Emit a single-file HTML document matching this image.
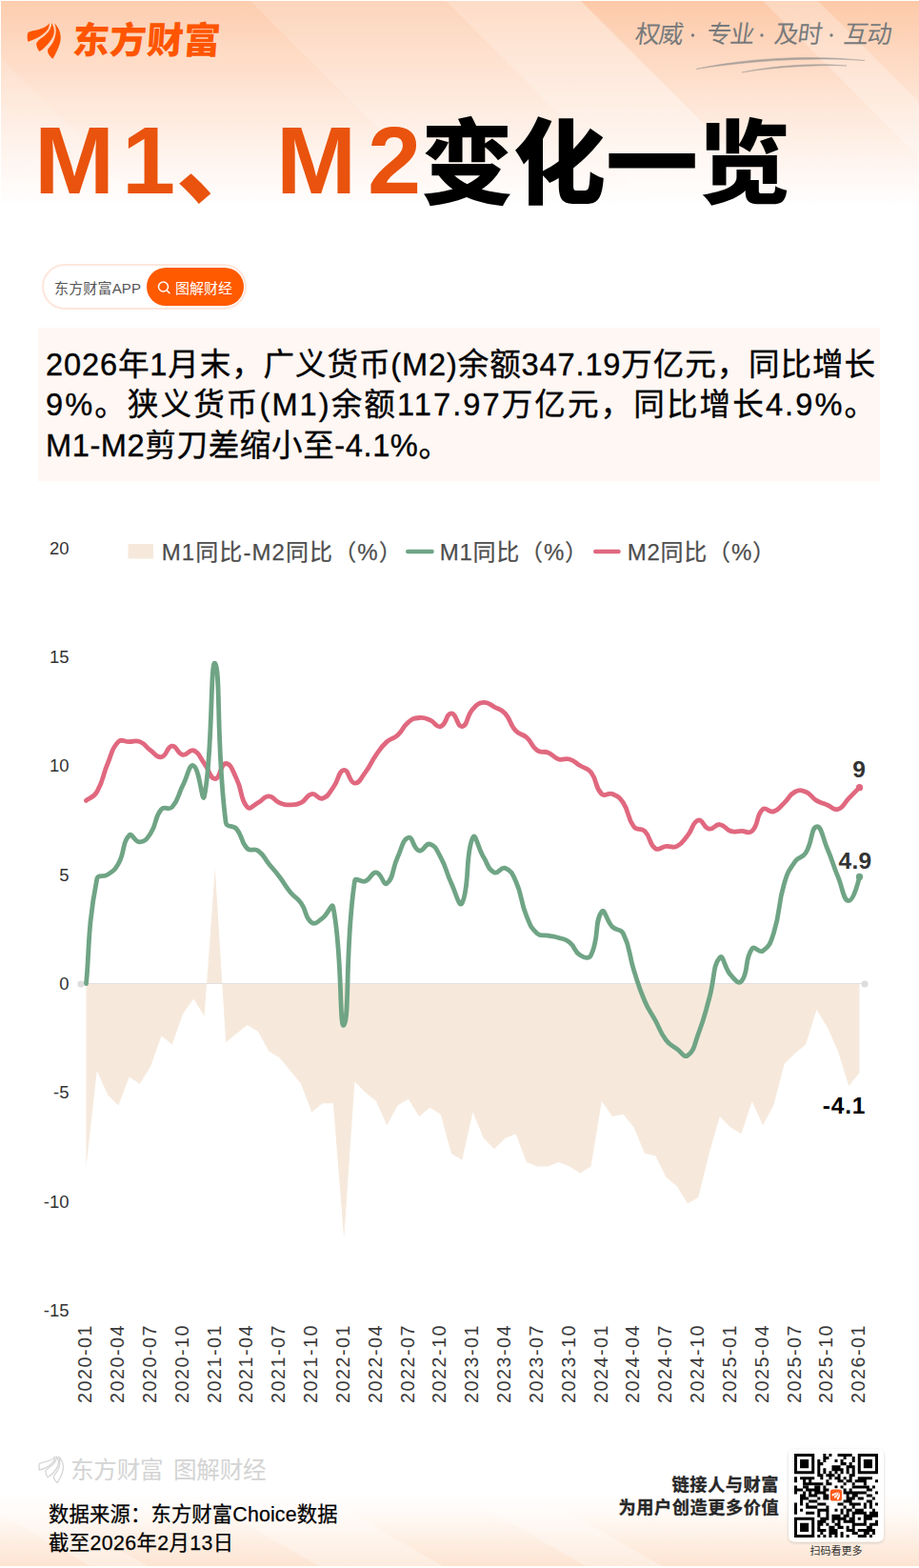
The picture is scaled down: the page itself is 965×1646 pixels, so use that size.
<!DOCTYPE html>
<html lang="zh-CN"><head><meta charset="utf-8"><title>M1、M2变化一览</title>
<style>html,body{margin:0;padding:0;background:#fff;}body{width:965px;height:1646px;overflow:hidden;font-family:"Liberation Sans","Noto Sans CJK SC",sans-serif;}svg{display:block;}</style>
</head><body><svg width="965" height="1646" viewBox="0 0 965 1646" font-family="'Liberation Sans', 'Noto Sans CJK SC', sans-serif"><defs><linearGradient id="bgTop" x1="0" y1="0" x2="0" y2="1"><stop offset="0.000" stop-color="#fdc9a8"/><stop offset="0.083" stop-color="#fdceb0"/><stop offset="0.167" stop-color="#fdd3b8"/><stop offset="0.250" stop-color="#fed8c0"/><stop offset="0.333" stop-color="#fedcc7"/><stop offset="0.417" stop-color="#fee1cf"/><stop offset="0.500" stop-color="#fee6d6"/><stop offset="0.583" stop-color="#feeade"/><stop offset="0.667" stop-color="#feefe5"/><stop offset="0.750" stop-color="#fff3ec"/><stop offset="0.833" stop-color="#fff7f3"/><stop offset="0.917" stop-color="#fffbf9"/><stop offset="1.000" stop-color="#ffffff"/></linearGradient><linearGradient id="bgBot" x1="0" y1="0" x2="0" y2="1"><stop offset="0" stop-color="#ffffff"/><stop offset="0.3" stop-color="#fffaf6"/><stop offset="0.62" stop-color="#fef0e5"/><stop offset="1" stop-color="#fde4d2"/></linearGradient><linearGradient id="fadeDown" gradientUnits="userSpaceOnUse" x1="0" y1="0" x2="0" y2="215"><stop offset="0" stop-color="#fff" stop-opacity="1"/><stop offset="1" stop-color="#fff" stop-opacity="1"/></linearGradient><clipPath id="topclip"><rect x="1" y="1" width="964" height="216"/></clipPath></defs><rect x="0" y="0" width="965" height="1646" fill="#fff"/><rect x="1" y="1" width="964" height="216" fill="url(#bgTop)"/><g clip-path="url(#topclip)"><path d="M262 0L467 0L688 221L483 221Z" fill="#fff" opacity="0.22"/><path d="M467 0L609 0L830 221L688 221Z" fill="#fff" opacity="0.36"/><path d="M800 0L858 0L1079 221L1021 221Z" fill="#fff" opacity="0.25"/><path d="M-250 0L-60 0L161 221L-29 221Z" fill="#fff" opacity="0.18"/><path d="M-60 0L262 0L483 221L161 221Z" fill="#fff" opacity="0.08"/></g><rect x="0" y="1566" width="965" height="78" fill="url(#bgBot)"/><g opacity="0.30" fill="#fff"><path d="M200 1566L330 1566L465 1644L335 1644Z"/><path d="M480 1566L560 1566L695 1644L615 1644Z"/><path d="M-40 1566L20 1566L155 1644L95 1644Z"/></g><g transform="translate(22 16)" fill="#ff5500" opacity="1"><path d="M29.79 8.29C28.24 11.14 24.35 13.73 15.54 15.8C11.4 16.68 8.55 17.1 7.25 18.39C6.32 20.73 6.63 24.35 7.25 27.72C13.47 26.17 20.73 22.8 26.42 17.1C29.02 14.25 30.05 11.14 29.79 8.29Z"/><path d="M32.12 8.03C32.38 12.95 29.53 18.13 22.8 23.06C19.69 25.13 17.1 27.46 16.06 29.79C16.32 33.16 17.88 36.27 19.43 38.08C24.87 34.72 31.09 27.98 33.94 21.76C35.75 17.1 34.72 11.92 32.12 8.03Z"/><path d="M35.23 8.55C37.56 14.51 37.31 20.73 33.68 28.24C31.61 31.61 29.27 34.2 28.24 35.75C27.2 39.38 30.05 43.01 33.42 45.85C37.82 38.34 41.45 30.57 41.71 24.35C41.87 18.13 39.38 12.44 35.23 8.55Z"/></g><text transform="translate(75.5 56) skewX(-4)" font-size="38.5" font-weight="900" letter-spacing="0.33" fill="#ff5500">东方财富</text><g fill="#777a7c" font-size="26" letter-spacing="-1.4"><text transform="translate(666 45) skewX(-8)">权威</text><text transform="translate(741 45) skewX(-8)">专业</text><text transform="translate(812 45) skewX(-8)">及时</text><text transform="translate(885 45) skewX(-8)">互动</text></g><circle cx="727.5" cy="37" r="1.7" fill="#777a7c"/><circle cx="800" cy="37" r="1.7" fill="#777a7c"/><circle cx="873" cy="37" r="1.7" fill="#777a7c"/><path d="M731 72.5C780 61.5 850 57 908 63.5C850 59.8 790 63.5 731 72.5Z" fill="#8e8e8e" stroke="#8e8e8e" stroke-width="0.5" opacity="0.75"/><path d="M779 76C815 68 860 66 889 69C860 67.8 815 70.2 779 76Z" fill="#8e8e8e" stroke="#8e8e8e" stroke-width="0.5" opacity="0.75"/><g fill="#e9530d" font-weight="bold" font-size="101"><text x="36" y="202.9">M</text><text x="128" y="202.9">1</text><text x="185" y="206" font-size="97" font-weight="900">、</text><text x="290" y="202.9">M</text><text x="386" y="202.9">2</text></g><text x="442" y="206" font-size="97" font-weight="900" fill="#000">变化一览</text><rect x="45" y="278" width="213" height="46" rx="23" fill="#fff" stroke="#fee6dc" stroke-width="2"/><rect x="154" y="281" width="102" height="40" rx="20" fill="#ff5a00"/><text x="57" y="307.5" font-size="15" fill="#555" textLength="91" lengthAdjust="spacing">东方财富APP</text><text x="184" y="307.5" font-size="15" fill="#fff">图解财经</text><circle cx="171.5" cy="301" r="5" fill="none" stroke="#fff" stroke-width="1.5"/><path d="M175.2 304.8L178 307.8" stroke="#fff" stroke-width="1.5" stroke-linecap="round"/><rect x="40" y="344" width="884" height="161" fill="#fef7f4"/><g fill="#000" stroke="#000" stroke-width="0.35" font-size="32.6"><text x="48" y="393.5" textLength="871" lengthAdjust="spacing">2026年1月末，广义货币(M2)余额347.19万亿元，同比增长</text><text x="48" y="436.4" textLength="871" lengthAdjust="spacing">9%。狭义货币(M1)余额117.97万亿元，同比增长4.9%。</text><text x="48" y="479.3" textLength="424" lengthAdjust="spacing">M1-M2剪刀差缩小至-4.1%。</text></g><path d="M90.5 1032.5L90.5 1224.61L101.78 1123.98L113.06 1149.14L124.33 1160.57L135.61 1130.84L146.89 1137.7L158.17 1119.41L169.44 1087.39L180.72 1096.54L192 1064.52L203.28 1048.51L214.56 1066.81L225.83 911.29L237.11 1094.25L248.39 1085.1L259.67 1075.95L270.94 1082.81L282.22 1103.4L293.5 1110.26L304.78 1123.98L316.06 1137.7L327.33 1167.43L338.61 1158.29L349.89 1158.29L361.17 1300.08L372.44 1135.41L383.72 1146.85L395 1156L406.28 1181.15L417.56 1160.57L428.83 1153.71L440.11 1172.01L451.39 1162.86L462.67 1169.72L473.94 1210.89L485.22 1217.75L496.5 1167.43L507.78 1194.88L519.06 1206.31L530.33 1194.88L541.61 1190.3L552.89 1220.03L564.17 1224.61L575.44 1224.61L586.72 1220.03L598 1224.61L609.28 1231.47L620.56 1224.61L631.83 1156L643.11 1172.01L654.39 1169.72L665.67 1183.44L676.94 1210.89L688.22 1213.17L699.5 1236.04L710.78 1245.19L722.06 1263.49L733.33 1256.63L744.61 1210.89L755.89 1172.01L767.17 1183.44L778.44 1190.3L789.72 1156L801 1181.15L812.28 1160.57L823.56 1117.12L834.83 1105.68L846.11 1096.54L857.39 1059.94L868.67 1078.24L879.94 1103.4L891.22 1139.99L902.5 1126.27L902.5 1032.5Z" fill="#f6e9dc"/><path d="M85 1032.5 H908" stroke="#e3dfe3" stroke-width="1.2"/><circle cx="85" cy="1033" r="3.6" fill="#ddd"/><circle cx="908" cy="1033" r="3.6" fill="#ddd"/><path d="M90.5 840.39C93.88 837.65 98.24 837.34 101.78 831.24C109.52 817.9 106.8 816.11 113.06 801.51C118.07 789.81 116.51 786.57 124.33 778.64C127.79 775.14 129.97 778.64 135.61 778.64C141.25 778.64 141.96 776.64 146.89 778.64C153.24 781.22 152.26 783.6 158.17 787.79C163.54 791.6 164.36 795.68 169.44 794.65C175.63 793.4 174.8 783.82 180.72 783.22C186.08 782.67 185.86 791.12 192 792.37C197.14 793.41 198.69 785.93 203.28 787.79C209.97 790.51 209.19 794.44 214.56 801.51C220.47 809.31 220.19 817.52 225.83 817.52C231.47 817.52 231.47 801.51 237.11 801.51C242.75 801.51 244.09 808.81 248.39 817.52C255.37 831.68 251.51 838.16 259.67 847.25C262.79 850.73 265.53 845.42 270.94 842.68C276.81 839.7 276.58 835.82 282.22 835.82C287.86 835.82 287.47 840.24 293.5 842.68C298.75 844.81 299.14 844.97 304.78 844.97C310.42 844.97 311.07 845.21 316.06 842.68C322.35 839.49 321.2 834.78 327.33 833.53C332.48 832.49 333.75 839.58 338.61 838.11C345.03 836.15 345.07 833.03 349.89 826.67C356.34 818.16 354.99 809.63 361.17 808.37C366.27 807.34 366.52 821.5 372.44 822.1C377.8 822.64 378.9 817.02 383.72 810.66C390.18 802.15 388.83 801.13 395 792.37C400.1 785.12 399.81 784.55 406.28 778.64C411.09 774.26 412.75 776.17 417.56 771.78C424.03 765.88 422.14 763.49 428.83 758.06C433.42 754.34 434.31 754.07 440.11 753.49C445.59 752.93 446.14 753.64 451.39 755.77C457.41 758.22 457.86 764.1 462.67 762.63C469.14 760.67 468.31 748.91 473.94 748.91C479.58 748.91 480.12 763.67 485.22 762.63C491.4 761.38 489.51 752.13 496.5 744.34C500.79 739.55 501.91 738.07 507.78 737.48C513.19 736.93 513.65 739.31 519.06 742.05C524.92 745.03 526.04 744.13 530.33 748.91C537.32 756.7 534.62 759.42 541.61 767.21C545.9 771.99 548.08 769.68 552.89 774.07C559.36 779.97 557.32 782.93 564.17 787.79C568.6 790.94 570.19 787.95 575.44 790.08C581.47 792.52 580.64 795.09 586.72 796.94C591.92 798.52 592.8 795.36 598 796.94C604.08 798.79 603.64 800.37 609.28 803.8C614.92 807.23 616.71 805.59 620.56 810.66C627.99 820.46 624.01 825.6 631.83 833.53C635.29 837.04 638.18 831.53 643.11 833.53C649.46 836.11 650.5 836.76 654.39 842.68C661.78 853.91 657.84 857.52 665.67 867.84C669.12 872.39 672.87 868.28 676.94 872.41C684.14 879.71 680.88 885.49 688.22 890.71C692.15 893.5 693.8 889 699.5 888.42C705.08 887.85 706.13 890.78 710.78 888.42C717.4 885.06 716.97 883.17 722.06 876.98C728.25 869.45 726.86 862.94 733.33 860.98C738.14 859.51 738.48 868.88 744.61 870.12C749.75 871.17 750.48 865 755.89 865.55C761.76 866.14 761.08 870.56 767.17 872.41C772.36 873.99 772.81 872.41 778.44 872.41C784.08 872.41 786.26 875.92 789.72 872.41C797.54 864.48 793.23 856.63 801 849.54C804.51 846.34 807.29 853.34 812.28 851.83C818.57 849.91 818.2 847.57 823.56 842.68C829.48 837.27 828.21 834.6 834.83 831.24C839.49 828.89 841.18 829.24 846.11 831.24C852.46 833.82 851.25 836.66 857.39 840.39C862.53 843.52 863.03 842.68 868.67 844.97C874.31 847.25 875.08 851.02 879.94 849.54C886.36 847.59 885.58 843.82 891.22 838.11C896.86 832.39 902.5 826.67 902.5 826.67" fill="none" stroke="#e0687f" stroke-width="4.8" stroke-linecap="round" stroke-linejoin="round"/><path d="M90.5 1032.5C93.88 999.57 91.62 974.22 101.78 922.72C102.9 917.04 108.19 921.6 113.06 918.15C119.47 913.6 120.55 913.62 124.33 906.72C131.83 893.04 127.64 885.06 135.61 876.98C138.92 873.63 141.52 884.39 146.89 883.85C152.8 883.25 154.28 880.61 158.17 874.7C165.55 863.46 161.49 859.22 169.44 849.54C172.77 845.5 177.22 851.16 180.72 847.25C188.49 838.59 186.13 835.7 192 824.38C197.41 813.97 198.67 801.46 203.28 803.8C209.95 807.18 212.35 846.31 214.56 835.82C223.63 792.56 220.7 690.06 225.83 696.31C231.97 703.78 226.66 782.71 237.11 863.26C237.94 869.62 244.33 865.18 248.39 870.12C255.61 878.91 252.1 883.03 259.67 890.71C263.38 894.47 266.51 889.85 270.94 892.99C277.79 897.85 276.58 899.85 282.22 906.72C287.86 913.58 288.14 913.37 293.5 920.44C299.41 928.23 298.58 928.91 304.78 936.45C309.86 942.63 311.47 941.38 316.06 947.88C322.75 957.39 319.91 963.19 327.33 968.46C331.18 971.2 333.75 967.34 338.61 963.89C345.03 959.34 348.6 946.03 349.89 952.46C359.87 1002.06 356.09 1082.13 361.17 1075.95C367.37 1068.41 361.95 995.25 372.44 925.01C373.23 919.78 378.79 927.01 383.72 925.01C390.07 922.44 389.64 915.32 395 915.86C400.92 916.46 402.32 930.11 406.28 927.3C413.59 922.1 411.26 913.26 417.56 899.85C422.54 889.25 422.41 881.22 428.83 879.27C433.69 877.79 433.64 891.03 440.11 892.99C444.92 894.46 446.58 884.67 451.39 886.13C457.86 888.1 458.44 892.15 462.67 899.85C469.72 912.73 467.65 913.89 473.94 927.3C478.93 937.9 482.38 953.94 485.22 947.88C493.65 929.93 488.07 897.22 496.5 879.27C499.35 873.21 501.63 889.88 507.78 899.85C512.91 908.18 512.1 912.34 519.06 915.86C523.38 918.05 525.75 909.43 530.33 911.29C537.03 914 538.04 917.04 541.61 925.01C549.32 942.2 545.67 944.03 552.89 961.6C556.94 971.47 556.82 973.2 564.17 979.9C568.1 983.49 569.81 981.04 575.44 982.19C581.08 983.33 581.24 982.81 586.72 984.47C592.52 986.24 593.41 985.33 598 989.05C604.69 994.48 602.38 998.57 609.28 1002.77C613.66 1005.43 618.38 1007.19 620.56 1002.77C629.65 984.32 623.87 967.53 631.83 957.03C635.14 952.66 636.37 966.21 643.11 973.04C647.65 977.64 651.62 974.28 654.39 979.9C662.89 997.15 659.53 999.5 665.67 1018.78C670.81 1034.95 670.28 1035.25 676.94 1050.8C681.55 1061.55 682.58 1061.09 688.22 1071.38C693.86 1081.67 692.53 1082.78 699.5 1091.96C703.81 1097.64 704.87 1096.92 710.78 1101.11C716.15 1104.92 718.21 1110.7 722.06 1107.97C729.49 1102.7 728.83 1096.99 733.33 1085.1C740.1 1067.25 739.42 1066.93 744.61 1048.51C750.7 1026.91 748.26 1013.56 755.89 1005.06C759.54 1000.98 760.18 1015.56 767.17 1023.35C771.46 1028.14 775.43 1033.89 778.44 1030.21C786.7 1020.16 781.17 1008.05 789.72 995.91C792.45 992.04 797.07 1000.99 801 998.2C808.35 992.98 809.06 990.02 812.28 979.9C820.34 954.57 815.9 952.9 823.56 927.3C827.18 915.16 827.65 914.63 834.83 904.43C838.93 898.62 842.41 901.29 846.11 895.28C853.68 883 851.32 869.07 857.39 867.84C862.6 866.78 863.65 879 868.67 890.71C874.93 905.3 873.9 905.74 879.94 920.44C885.18 933.18 885.58 945.59 891.22 945.59C896.86 945.59 902.5 920.44 902.5 920.44" fill="none" stroke="#6fa485" stroke-width="4.8" stroke-linecap="round" stroke-linejoin="round"/><circle cx="902.5" cy="826.67" r="3.6" fill="#e0687f"/><circle cx="902.5" cy="920.44" r="3.6" fill="#6fa485"/><g font-size="18.5" fill="#333" text-anchor="end"><text x="72.5" y="581.7">20</text><text x="72.5" y="696.05">15</text><text x="72.5" y="810.4">10</text><text x="72.5" y="924.75">5</text><text x="72.5" y="1039.1">0</text><text x="72.5" y="1153.45">-5</text><text x="72.5" y="1267.8">-10</text><text x="72.5" y="1382.15">-15</text></g><g font-size="19.8" fill="#3a3a3a" letter-spacing="1.5"><text transform="translate(96.2 1473) rotate(-90)">2020-01</text><text transform="translate(130.03 1473) rotate(-90)">2020-04</text><text transform="translate(163.87 1473) rotate(-90)">2020-07</text><text transform="translate(197.7 1473) rotate(-90)">2020-10</text><text transform="translate(231.53 1473) rotate(-90)">2021-01</text><text transform="translate(265.37 1473) rotate(-90)">2021-04</text><text transform="translate(299.2 1473) rotate(-90)">2021-07</text><text transform="translate(333.03 1473) rotate(-90)">2021-10</text><text transform="translate(366.87 1473) rotate(-90)">2022-01</text><text transform="translate(400.7 1473) rotate(-90)">2022-04</text><text transform="translate(434.53 1473) rotate(-90)">2022-07</text><text transform="translate(468.37 1473) rotate(-90)">2022-10</text><text transform="translate(502.2 1473) rotate(-90)">2023-01</text><text transform="translate(536.03 1473) rotate(-90)">2023-04</text><text transform="translate(569.87 1473) rotate(-90)">2023-07</text><text transform="translate(603.7 1473) rotate(-90)">2023-10</text><text transform="translate(637.53 1473) rotate(-90)">2024-01</text><text transform="translate(671.37 1473) rotate(-90)">2024-04</text><text transform="translate(705.2 1473) rotate(-90)">2024-07</text><text transform="translate(739.03 1473) rotate(-90)">2024-10</text><text transform="translate(772.87 1473) rotate(-90)">2025-01</text><text transform="translate(806.7 1473) rotate(-90)">2025-04</text><text transform="translate(840.53 1473) rotate(-90)">2025-07</text><text transform="translate(874.37 1473) rotate(-90)">2025-10</text><text transform="translate(908.2 1473) rotate(-90)">2026-01</text></g><g font-size="24.5" font-weight="bold" text-anchor="middle"><text x="902" y="815.5" fill="#333">9</text><text x="898" y="911.8" fill="#333" letter-spacing="0.3">4.9</text><text x="886.5" y="1168.5" fill="#000" letter-spacing="0.8">-4.1</text></g><rect x="134.5" y="571" width="26.5" height="15.5" fill="#f6e9dc"/><path d="M428.3 579H453.5" stroke="#6fa485" stroke-width="4.6" stroke-linecap="round"/><path d="M625.3 579H649.5" stroke="#e0687f" stroke-width="4.6" stroke-linecap="round"/><g fill="#4d4d4d" stroke="#555" stroke-width="0.25" font-size="24"><text x="169.7" y="587.5" textLength="252" lengthAdjust="spacing">M1同比-M2同比（%）</text><text x="461.7" y="587.5" textLength="155.3" lengthAdjust="spacing">M1同比（%）</text><text x="658.7" y="587.5" textLength="155.3" lengthAdjust="spacing">M2同比（%）</text></g><g transform="translate(36 1523)" fill="none" stroke="#d6d6d6" stroke-width="1.3" stroke-linejoin="round" opacity="1"><path d="M21.75 6.05C20.61 8.13 17.78 10.02 11.35 11.54C8.32 12.18 6.24 12.48 5.3 13.43C4.61 15.13 4.84 17.78 5.3 20.24C9.83 19.1 15.13 16.64 19.29 12.48C21.18 10.4 21.94 8.13 21.75 6.05Z"/><path d="M23.45 5.86C23.64 9.46 21.56 13.24 16.64 16.83C14.37 18.34 12.48 20.05 11.73 21.75C11.91 24.21 13.05 26.48 14.18 27.8C18.16 25.34 22.69 20.42 24.77 15.89C26.1 12.48 25.34 8.7 23.45 5.86Z"/><path d="M25.72 6.24C27.42 10.59 27.23 15.13 24.59 20.61C23.07 23.07 21.37 24.96 20.61 26.1C19.86 28.75 21.94 31.39 24.4 33.47C27.61 27.99 30.26 22.32 30.45 17.78C30.56 13.24 28.75 9.08 25.72 6.24Z"/></g><g fill="#d4d4d4" font-size="24.6"><text x="73.9" y="1552.3" letter-spacing="-0.2">东方财富</text><text x="181.9" y="1552.3" letter-spacing="-0.2">图解财经</text></g><g fill="#000" stroke="#000" stroke-width="0.25" font-size="21.3"><text x="51" y="1597.4" textLength="303.5" lengthAdjust="spacing">数据来源：东方财富Choice数据</text><text x="51" y="1626.9" textLength="194" lengthAdjust="spacing">截至2026年2月13日</text></g><g fill="#262626" stroke="#262626" stroke-width="0.3" font-size="18.2" font-weight="bold" letter-spacing="0.56"><text x="705.5" y="1564.6">链接人与财富</text><text x="649.5" y="1589.4">为用户创造更多价值</text></g><defs><filter id="sh" x="-20%" y="-20%" width="140%" height="140%"><feDropShadow dx="0" dy="1" stdDeviation="1.5" flood-color="#000" flood-opacity="0.18"/></filter></defs><rect x="828" y="1521" width="100" height="97.5" rx="6" fill="#fff" filter="url(#sh)"/><path d="M834 1526h21.24v3.03h-21.24zM864.34 1526h3.03v3.03h-3.03zM870.41 1526h3.03v3.03h-3.03zM879.52 1526h15.17v3.03h-15.17zM900.76 1526h21.24v3.03h-21.24zM834 1529.03h3.03v3.03h-3.03zM852.21 1529.03h3.03v3.03h-3.03zM864.34 1529.03h6.07v3.03h-6.07zM885.59 1529.03h3.03v3.03h-3.03zM894.69 1529.03h3.03v3.03h-3.03zM900.76 1529.03h3.03v3.03h-3.03zM918.97 1529.03h3.03v3.03h-3.03zM834 1532.07h3.03v3.03h-3.03zM840.07 1532.07h9.1v3.03h-9.1zM852.21 1532.07h3.03v3.03h-3.03zM858.28 1532.07h3.03v3.03h-3.03zM864.34 1532.07h3.03v3.03h-3.03zM876.48 1532.07h3.03v3.03h-3.03zM882.55 1532.07h3.03v3.03h-3.03zM894.69 1532.07h3.03v3.03h-3.03zM900.76 1532.07h3.03v3.03h-3.03zM906.83 1532.07h9.1v3.03h-9.1zM918.97 1532.07h3.03v3.03h-3.03zM834 1535.1h3.03v3.03h-3.03zM840.07 1535.1h9.1v3.03h-9.1zM852.21 1535.1h3.03v3.03h-3.03zM858.28 1535.1h6.07v3.03h-6.07zM882.55 1535.1h6.07v3.03h-6.07zM891.66 1535.1h3.03v3.03h-3.03zM900.76 1535.1h3.03v3.03h-3.03zM906.83 1535.1h9.1v3.03h-9.1zM918.97 1535.1h3.03v3.03h-3.03zM834 1538.14h3.03v3.03h-3.03zM840.07 1538.14h9.1v3.03h-9.1zM852.21 1538.14h3.03v3.03h-3.03zM858.28 1538.14h3.03v3.03h-3.03zM873.45 1538.14h9.1v3.03h-9.1zM888.62 1538.14h9.1v3.03h-9.1zM900.76 1538.14h3.03v3.03h-3.03zM906.83 1538.14h9.1v3.03h-9.1zM918.97 1538.14h3.03v3.03h-3.03zM834 1541.17h3.03v3.03h-3.03zM852.21 1541.17h3.03v3.03h-3.03zM858.28 1541.17h3.03v3.03h-3.03zM864.34 1541.17h3.03v3.03h-3.03zM873.45 1541.17h12.14v3.03h-12.14zM888.62 1541.17h3.03v3.03h-3.03zM894.69 1541.17h3.03v3.03h-3.03zM900.76 1541.17h3.03v3.03h-3.03zM918.97 1541.17h3.03v3.03h-3.03zM834 1544.21h21.24v3.03h-21.24zM858.28 1544.21h3.03v3.03h-3.03zM864.34 1544.21h3.03v3.03h-3.03zM870.41 1544.21h3.03v3.03h-3.03zM876.48 1544.21h3.03v3.03h-3.03zM882.55 1544.21h3.03v3.03h-3.03zM888.62 1544.21h3.03v3.03h-3.03zM894.69 1544.21h3.03v3.03h-3.03zM900.76 1544.21h21.24v3.03h-21.24zM858.28 1547.24h6.07v3.03h-6.07zM867.38 1547.24h9.1v3.03h-9.1zM879.52 1547.24h3.03v3.03h-3.03zM891.66 1547.24h6.07v3.03h-6.07zM834 1550.28h3.03v3.03h-3.03zM840.07 1550.28h15.17v3.03h-15.17zM861.31 1550.28h3.03v3.03h-3.03zM870.41 1550.28h3.03v3.03h-3.03zM876.48 1550.28h6.07v3.03h-6.07zM885.59 1550.28h3.03v3.03h-3.03zM891.66 1550.28h3.03v3.03h-3.03zM900.76 1550.28h15.17v3.03h-15.17zM834 1553.31h3.03v3.03h-3.03zM843.1 1553.31h3.03v3.03h-3.03zM849.17 1553.31h3.03v3.03h-3.03zM867.38 1553.31h3.03v3.03h-3.03zM879.52 1553.31h6.07v3.03h-6.07zM888.62 1553.31h6.07v3.03h-6.07zM897.72 1553.31h12.14v3.03h-12.14zM918.97 1553.31h3.03v3.03h-3.03zM843.1 1556.34h21.24v3.03h-21.24zM867.38 1556.34h6.07v3.03h-6.07zM885.59 1556.34h3.03v3.03h-3.03zM894.69 1556.34h3.03v3.03h-3.03zM906.83 1556.34h3.03v3.03h-3.03zM834 1559.38h3.03v3.03h-3.03zM843.1 1559.38h6.07v3.03h-6.07zM855.24 1559.38h6.07v3.03h-6.07zM864.34 1559.38h3.03v3.03h-3.03zM876.48 1559.38h3.03v3.03h-3.03zM882.55 1559.38h3.03v3.03h-3.03zM894.69 1559.38h18.21v3.03h-18.21zM915.93 1559.38h3.03v3.03h-3.03zM834 1562.41h9.1v3.03h-9.1zM846.14 1562.41h15.17v3.03h-15.17zM864.34 1562.41h6.07v3.03h-6.07zM885.59 1562.41h3.03v3.03h-3.03zM891.66 1562.41h3.03v3.03h-3.03zM909.86 1562.41h6.07v3.03h-6.07zM834 1565.45h3.03v3.03h-3.03zM843.1 1565.45h3.03v3.03h-3.03zM849.17 1565.45h3.03v3.03h-3.03zM855.24 1565.45h12.14v3.03h-12.14zM885.59 1565.45h24.28v3.03h-24.28zM918.97 1565.45h3.03v3.03h-3.03zM840.07 1568.48h6.07v3.03h-6.07zM849.17 1568.48h9.1v3.03h-9.1zM864.34 1568.48h6.07v3.03h-6.07zM888.62 1568.48h3.03v3.03h-3.03zM894.69 1568.48h6.07v3.03h-6.07zM909.86 1568.48h6.07v3.03h-6.07zM840.07 1571.52h9.1v3.03h-9.1zM858.28 1571.52h3.03v3.03h-3.03zM864.34 1571.52h6.07v3.03h-6.07zM888.62 1571.52h9.1v3.03h-9.1zM900.76 1571.52h6.07v3.03h-6.07zM915.93 1571.52h3.03v3.03h-3.03zM840.07 1574.55h3.03v3.03h-3.03zM849.17 1574.55h9.1v3.03h-9.1zM885.59 1574.55h9.1v3.03h-9.1zM909.86 1574.55h6.07v3.03h-6.07zM834 1577.59h3.03v3.03h-3.03zM840.07 1577.59h3.03v3.03h-3.03zM846.14 1577.59h3.03v3.03h-3.03zM858.28 1577.59h9.1v3.03h-9.1zM879.52 1577.59h6.07v3.03h-6.07zM891.66 1577.59h12.14v3.03h-12.14zM906.83 1577.59h3.03v3.03h-3.03zM912.9 1577.59h3.03v3.03h-3.03zM918.97 1577.59h3.03v3.03h-3.03zM834 1580.62h3.03v3.03h-3.03zM846.14 1580.62h12.14v3.03h-12.14zM867.38 1580.62h3.03v3.03h-3.03zM885.59 1580.62h3.03v3.03h-3.03zM894.69 1580.62h3.03v3.03h-3.03zM906.83 1580.62h3.03v3.03h-3.03zM912.9 1580.62h3.03v3.03h-3.03zM834 1583.66h3.03v3.03h-3.03zM840.07 1583.66h3.03v3.03h-3.03zM858.28 1583.66h12.14v3.03h-12.14zM876.48 1583.66h3.03v3.03h-3.03zM882.55 1583.66h3.03v3.03h-3.03zM888.62 1583.66h6.07v3.03h-6.07zM897.72 1583.66h9.1v3.03h-9.1zM915.93 1583.66h3.03v3.03h-3.03zM834 1586.69h3.03v3.03h-3.03zM846.14 1586.69h9.1v3.03h-9.1zM858.28 1586.69h3.03v3.03h-3.03zM867.38 1586.69h3.03v3.03h-3.03zM882.55 1586.69h3.03v3.03h-3.03zM888.62 1586.69h3.03v3.03h-3.03zM894.69 1586.69h15.17v3.03h-15.17zM912.9 1586.69h9.1v3.03h-9.1zM858.28 1589.72h3.03v3.03h-3.03zM867.38 1589.72h3.03v3.03h-3.03zM873.45 1589.72h9.1v3.03h-9.1zM885.59 1589.72h6.07v3.03h-6.07zM894.69 1589.72h3.03v3.03h-3.03zM906.83 1589.72h15.17v3.03h-15.17zM834 1592.76h21.24v3.03h-21.24zM861.31 1592.76h9.1v3.03h-9.1zM873.45 1592.76h15.17v3.03h-15.17zM891.66 1592.76h6.07v3.03h-6.07zM900.76 1592.76h3.03v3.03h-3.03zM906.83 1592.76h9.1v3.03h-9.1zM834 1595.79h3.03v3.03h-3.03zM852.21 1595.79h3.03v3.03h-3.03zM858.28 1595.79h9.1v3.03h-9.1zM873.45 1595.79h3.03v3.03h-3.03zM879.52 1595.79h3.03v3.03h-3.03zM885.59 1595.79h12.14v3.03h-12.14zM906.83 1595.79h3.03v3.03h-3.03zM918.97 1595.79h3.03v3.03h-3.03zM834 1598.83h3.03v3.03h-3.03zM840.07 1598.83h9.1v3.03h-9.1zM852.21 1598.83h3.03v3.03h-3.03zM858.28 1598.83h6.07v3.03h-6.07zM867.38 1598.83h3.03v3.03h-3.03zM876.48 1598.83h6.07v3.03h-6.07zM894.69 1598.83h15.17v3.03h-15.17zM912.9 1598.83h9.1v3.03h-9.1zM834 1601.86h3.03v3.03h-3.03zM840.07 1601.86h9.1v3.03h-9.1zM852.21 1601.86h3.03v3.03h-3.03zM858.28 1601.86h3.03v3.03h-3.03zM870.41 1601.86h6.07v3.03h-6.07zM879.52 1601.86h6.07v3.03h-6.07zM888.62 1601.86h3.03v3.03h-3.03zM894.69 1601.86h3.03v3.03h-3.03zM909.86 1601.86h6.07v3.03h-6.07zM834 1604.9h3.03v3.03h-3.03zM840.07 1604.9h9.1v3.03h-9.1zM852.21 1604.9h3.03v3.03h-3.03zM858.28 1604.9h9.1v3.03h-9.1zM870.41 1604.9h9.1v3.03h-9.1zM888.62 1604.9h9.1v3.03h-9.1zM900.76 1604.9h18.21v3.03h-18.21zM834 1607.93h3.03v3.03h-3.03zM852.21 1607.93h3.03v3.03h-3.03zM861.31 1607.93h3.03v3.03h-3.03zM870.41 1607.93h9.1v3.03h-9.1zM882.55 1607.93h3.03v3.03h-3.03zM894.69 1607.93h6.07v3.03h-6.07zM906.83 1607.93h6.07v3.03h-6.07zM915.93 1607.93h3.03v3.03h-3.03zM834 1610.97h21.24v3.03h-21.24zM858.28 1610.97h3.03v3.03h-3.03zM864.34 1610.97h3.03v3.03h-3.03zM870.41 1610.97h3.03v3.03h-3.03zM876.48 1610.97h3.03v3.03h-3.03zM882.55 1610.97h3.03v3.03h-3.03zM888.62 1610.97h3.03v3.03h-3.03zM900.76 1610.97h9.1v3.03h-9.1zM912.9 1610.97h3.03v3.03h-3.03z" fill="#000"/><rect x="870.8" y="1562.4" width="14.2" height="14.2" rx="3" fill="#fff"/><rect x="871.8" y="1563.4" width="12.2" height="12.2" rx="2.6" fill="#ff5a1a"/><g transform="translate(872.1 1564.0)" fill="#fff" opacity="1"><path d="M7 1.95C6.64 2.62 5.72 3.23 3.65 3.71C2.68 3.92 2.01 4.02 1.7 4.32C1.49 4.87 1.56 5.72 1.7 6.51C3.17 6.15 4.87 5.36 6.21 4.02C6.82 3.35 7.06 2.62 7 1.95Z"/><path d="M7.55 1.89C7.61 3.04 6.94 4.26 5.36 5.42C4.63 5.91 4.02 6.45 3.77 7C3.84 7.79 4.2 8.52 4.57 8.95C5.84 8.16 7.31 6.58 7.98 5.11C8.4 4.02 8.16 2.8 7.55 1.89Z"/><path d="M8.28 2.01C8.83 3.41 8.77 4.87 7.91 6.64C7.43 7.43 6.88 8.04 6.64 8.4C6.39 9.25 7.06 10.11 7.85 10.78C8.89 9.01 9.74 7.18 9.8 5.72C9.84 4.26 9.25 2.92 8.28 2.01Z"/></g><text x="850.5" y="1631.5" font-size="11" fill="#333">扫码看更多</text></svg></body></html>
